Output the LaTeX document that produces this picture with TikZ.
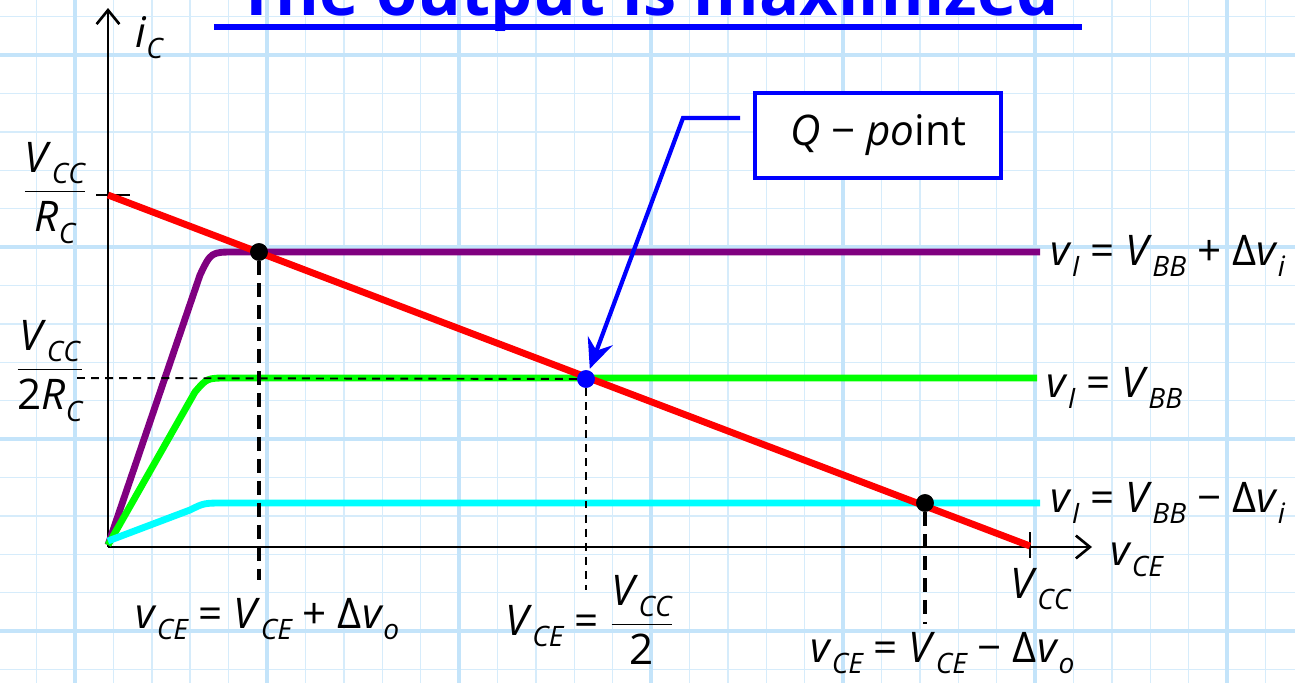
\documentclass[tikz,border=0pt]{standalone}
\usepackage{fontspec}
\setmainfont{Open Sans}
\usepackage{tikz}
\usetikzlibrary{
  arrows.meta,
  positioning,
  calc,
}
\definecolor{gridminor}{HTML}{D6ECFB}
\definecolor{gridmajor}{HTML}{C4E4FA}
\definecolor{qblue}{HTML}{0000FF}
\definecolor{loadred}{HTML}{FF0000}
\definecolor{hipurple}{HTML}{800080}
\definecolor{midgreen}{HTML}{00FF00}
\definecolor{locyan}{HTML}{00FFFF}
\newcommand{\vsb}[2]{\textit{#1}\raisebox{-6.5pt}{\fontsize{16}{16}\selectfont\itshape #2}}
\tikzset{
  font=\fontsize{24}{28}\selectfont,
  title/.style={font=\bfseries\fontsize{38}{40}\selectfont, text=qblue, anchor=base, inner xsep=13pt},
  uline/.style={qblue, line width=3pt},
  grid minor/.style={gridminor, line width=0.8pt},
  grid major/.style={gridmajor, line width=1.8pt},
  axis/.style={line width=1.5pt, -{Straight Barb[length=8pt,width=13pt,line width=1.5pt]}},
  tick/.style={line width=1.2pt},
  curve/.style={line width=3.9pt, line join=round, draw=#1},
  guide thick/.style={line width=2.2pt, dash pattern=on 8pt off 4.5pt},
  guide thin/.style={line width=1.1pt, dash pattern=on 4.5pt off 3.5pt},
  dot/.style={circle, fill=#1, inner sep=0pt, minimum size=10pt},
  lbl/.style={anchor=base west, inner sep=0pt},
  qbox/.style={draw=qblue, line width=2.3pt, fill=white, minimum width=140pt, minimum height=48pt},
  qarrow/.style={qblue, line width=2.4pt, -{Stealth[length=17pt,width=15pt,inset=6pt]}, shorten >=1pt},
}

\begin{document}
\begin{tikzpicture}[x=0.02cm,y=-0.02cm]
  \useasboundingbox (0,0) rectangle (1295,683);

  % graph paper
  \begin{scope}
    \clip (0,0) rectangle (1295,683);
    \fill[white] (0,0) rectangle (1295,683);
    \foreach \k in {-1,...,32} {
      \draw[grid minor] ({75+38.4*\k},0) -- ({75+38.4*\k},683);
    }
    \foreach \k in {-1,...,16} {
      \draw[grid minor] (0,{55+38.4*\k}) -- (1295,{55+38.4*\k});
    }
    \foreach \k in {0,...,6} {
      \draw[grid major] ({75+192*\k},0) -- ({75+192*\k},683);
    }
    \foreach \k in {0,...,3} {
      \draw[grid major] (0,{55+192*\k}) -- (1295,{55+192*\k});
    }
  \end{scope}

  % title, cut at the top edge
  \node[title] (ttl) at (648,15) {The output is maximized};
  \draw[uline] ($(ttl.base west)+(0,12)$) -- ($(ttl.base east)+(0,12)$);

  % axes
  \coordinate (origin) at (108,547);
  \coordinate (xend) at (1092,547);
  \coordinate (yend) at (108,8);
  \draw[axis] (origin) -- (xend);
  \draw[axis] (origin) -- (yend);
  \node[lbl] (ic) at (135,47) {\vsb{i}{C}};
  \node[lbl] (vce) at (1110,565) {\vsb{v}{CE}};

  % ticks
  \coordinate (isat) at (108,195);
  \coordinate (vcc) at (1030,546);
  \draw[tick] ($(isat)+(-12,0)$) -- ($(isat)+(22,0)$);
  \draw[tick] ($(vcc)+(0,-14)$) -- ($(vcc)+(0,12)$);
  \node (fracsat) at (55,193) {$\displaystyle\frac{\hbox{\vsb{V}{CC}}}{\hbox{\vsb{R}{C}}}$};
  \node (frachalf) at (50,371) {$\displaystyle\frac{\hbox{\vsb{V}{CC}}}{\hbox{2\vsb{R}{C}}}$};
  \node[lbl] (vcclab) at (1010,598) {\vsb{V}{CC}};

  % transfer curves
  \draw[curve=hipurple] (108,545) -- (200,275) .. controls (211,252) .. (235,252) -- (1040,252);
  \draw[curve=midgreen] (108,545) -- (195,392) .. controls (207,378) .. (228,378) -- (1037,378);
  \draw[curve=locyan] (108,541) -- (190,510) .. controls (204,503) .. (225,503) -- (1040,503);

  % load line
  \draw[curve=loadred, line cap=butt] (isat) -- (vcc);

  \node[lbl] (lbhi) at (1050,265) {\vsb{v}{I} = \vsb{V}{BB} + Δ\vsb{v}{i}};
  \node[lbl] (lbmid) at (1046,397) {\vsb{v}{I} = \vsb{V}{BB}};
  \node[lbl] (lblo) at (1050,512) {\vsb{v}{I} = \vsb{V}{BB} − Δ\vsb{v}{i}};

  % operating points
  \node[dot=black] (dhi) at (259,252) {};
  \node[dot=qblue] (qpt) at (586,379) {};
  \node[dot=black] (dlo) at (925,503) {};

  \coordinate (dhifoot) at (259,580);
  \coordinate (qfoot) at (586,590);
  \coordinate (qleft) at (77,378);
  \coordinate (dlofoot) at (925,624);
  \draw[guide thick] (dhi) -- (dhifoot);
  \draw[guide thin] (qpt) -- (qfoot);
  \draw[guide thin] (qpt) -- (qleft);
  \draw[guide thick] (dlo) -- (dlofoot);
  \node[dot=black] at (dhi) {};
  \node[dot=qblue] at (qpt) {};
  \node[dot=black] at (dlo) {};

  \node[lbl] (swhi) at (135,628) {\vsb{v}{CE} = \vsb{V}{CE} + Δ\vsb{v}{o}};
  \node[lbl] (swmid) at (505,635) {\vsb{V}{CE} = $\displaystyle\frac{\hbox{\vsb{V}{CC}}}{\hbox{2}}$};
  \node[lbl] (swlo) at (810,662) {\vsb{v}{CE} = \vsb{V}{CE} − Δ\vsb{v}{o}};

  % Q-point callout
  \node[qbox] (qbox) at (878,135.5) {\textit{Q} − \textit{po}int};
  \coordinate (qbend) at (683,118);
  \draw[qarrow] ($(qbox.west)+(-13,-17.5)$) -- (qbend) -- (qpt);
\end{tikzpicture}
\end{document}
